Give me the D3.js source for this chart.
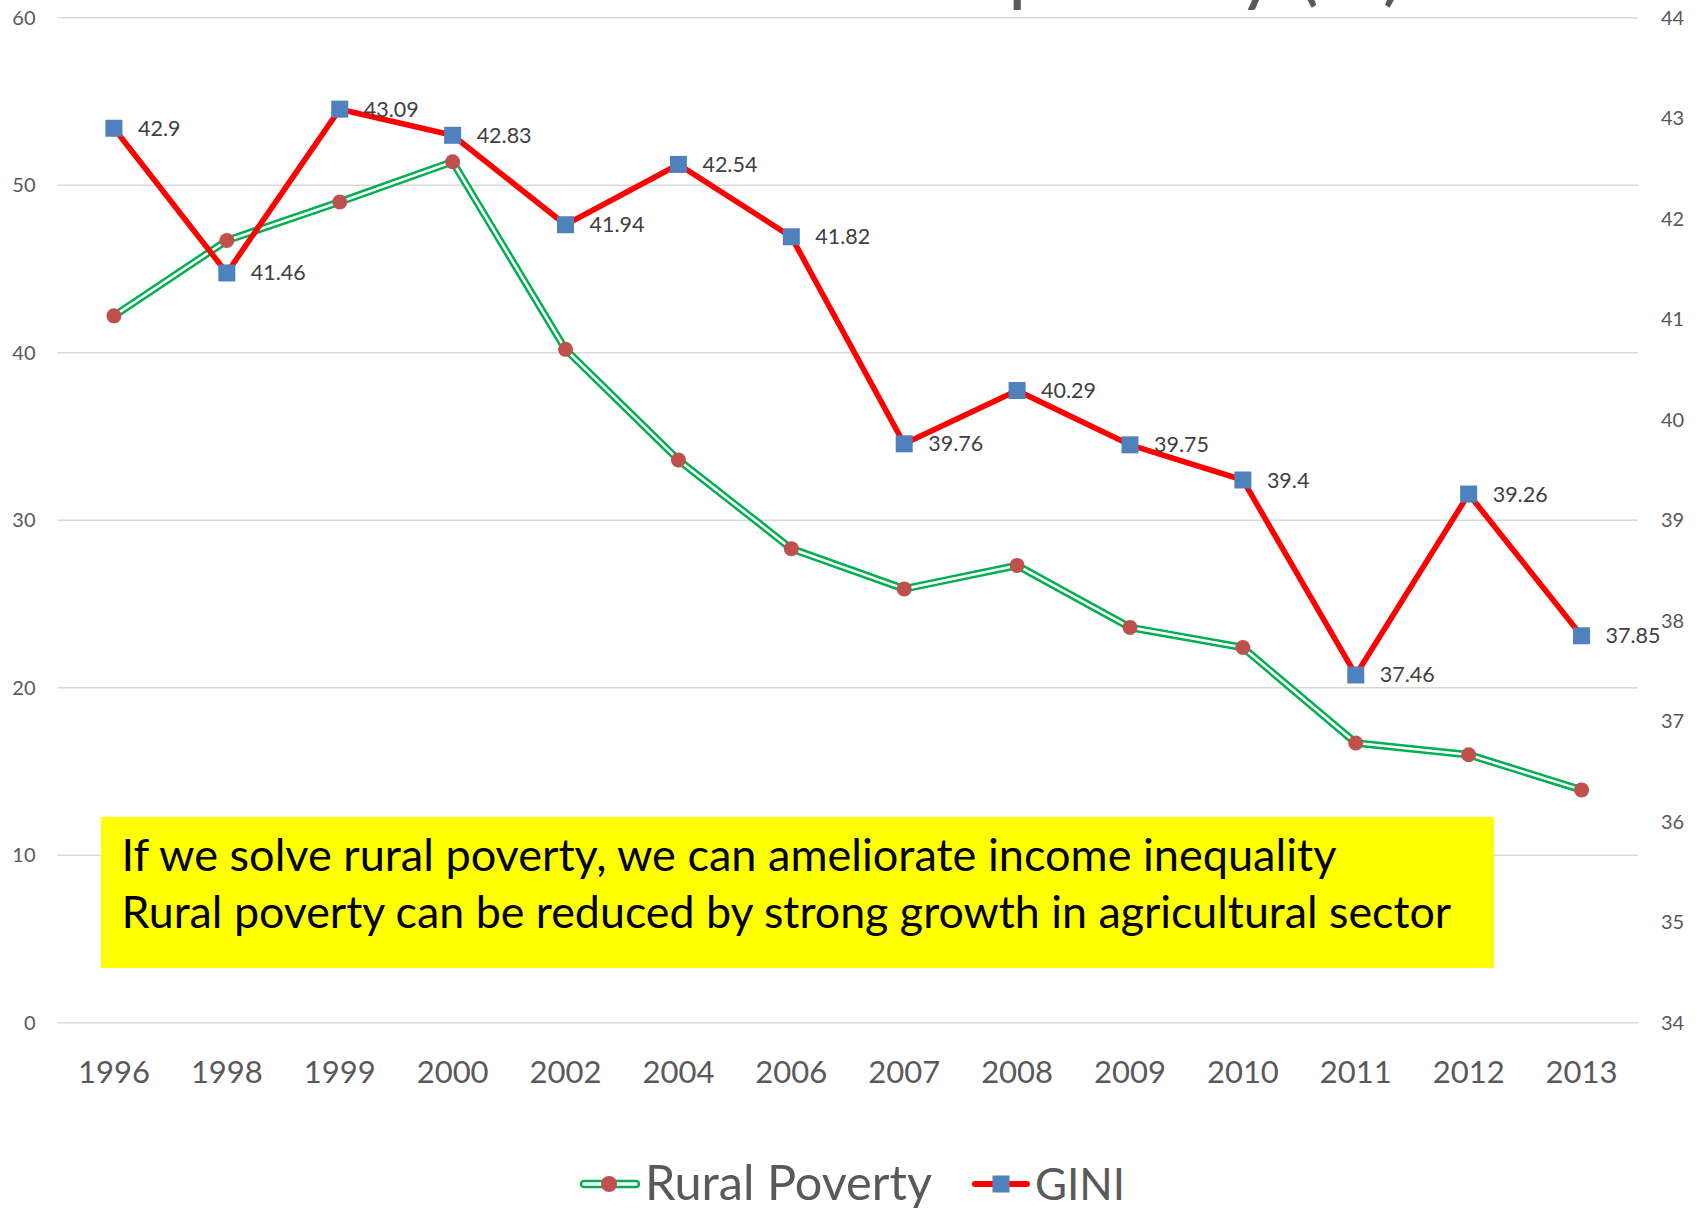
<!DOCTYPE html>
<html>
<head>
<meta charset="utf-8">
<script src="https://cdn.jsdelivr.net/npm/d3@7"></script>
<style>
  html, body { margin: 0; padding: 0; background: #fff; overflow: hidden; }
  svg { display: block; }
  text { font-family: Lato, "Open Sans", "Noto Sans", sans-serif; }
</style>
</head>
<body>
<svg id="chart" width="1702" height="1208"></svg>
<script>
// ---- data ----
const years = ["1996", "1998", "1999", "2000", "2002", "2004", "2006",
               "2007", "2008", "2009", "2010", "2011", "2012", "2013"];
const ruralPoverty = [42.2, 46.7, 49.0, 51.4, 40.2, 33.6, 28.3,
                      25.9, 27.3, 23.6, 22.4, 16.7, 16.0, 13.9];
const gini = [42.9, 41.46, 43.09, 42.83, 41.94, 42.54, 41.82,
              39.76, 40.29, 39.75, 39.4, 37.46, 39.26, 37.85];
const leftTicks = [0, 10, 20, 30, 40, 50, 60];
const rightTicks = [34, 35, 36, 37, 38, 39, 40, 41, 42, 43, 44];
const seriesNames = ["Rural Poverty", "GINI"];
const noteLines = [
  "If we solve rural poverty, we can ameliorate income inequality",
  "Rural poverty can be reduced by strong growth in agricultural sector"
];
const titleText = "Rural poverty (%)";

// ---- layout & style ----
const plot = { left: 57.5, right: 1638, top: 17.7, bottom: 1022.7 };
const C = {
  grid: "#D9D9D9", text: "#595959", green: "#00B050", red: "#FF0000",
  circle: "#C0504D", square: "#4F81BD", note: "#FFFF00"
};

const svg = d3.select("#chart");

// scale a text element's font size so it spans a given width
function fitWidth(sel, target) {
  const node = sel.node();
  const fs = parseFloat(sel.attr("font-size"));
  const len = node.getComputedTextLength();
  if (len > 0) sel.attr("font-size", (fs * target / len).toFixed(2));
  return sel;
}

const x = d3.scaleBand().domain(years).range([plot.left, plot.right]);
const cx = d => x(d) + x.bandwidth() / 2;
const yL = d3.scaleLinear().domain([0, 60]).range([plot.bottom, plot.top]);
const yR = d3.scaleLinear().domain([34, 44]).range([plot.bottom, plot.top]);

// title (sits mostly above the visible area)
svg.append("text")
  .attr("x", 1404).attr("y", -4)
  .attr("text-anchor", "end")
  .attr("font-size", 80)
  .attr("fill", C.text)
  .text(titleText);

// gridlines
svg.append("g").selectAll("line").data(leftTicks).join("line")
  .attr("x1", plot.left).attr("x2", plot.right)
  .attr("y1", d => yL(d)).attr("y2", d => yL(d))
  .attr("stroke", C.grid).attr("stroke-width", 1.5);

// left axis
const axL = svg.append("g")
  .attr("transform", `translate(${plot.left - 22},0)`)
  .call(d3.axisLeft(yL).tickValues(leftTicks).tickSize(0).tickPadding(0));
axL.select(".domain").remove();
axL.selectAll("text").attr("font-size", 20).attr("fill", C.text)
  .attr("font-family", "Lato, 'Open Sans', sans-serif");

// right axis
const axR = svg.append("g")
  .attr("transform", `translate(${plot.right + 23},0)`)
  .call(d3.axisRight(yR).tickValues(rightTicks).tickSize(0).tickPadding(0));
axR.select(".domain").remove();
axR.selectAll("text").attr("font-size", 20).attr("fill", C.text)
  .attr("font-family", "Lato, 'Open Sans', sans-serif");

// category axis
const axB = svg.append("g")
  .attr("transform", `translate(0,${plot.bottom + 49})`)
  .call(d3.axisBottom(x).tickSize(0).tickPadding(0));
axB.select(".domain").remove();
axB.selectAll("text").attr("font-size", 31).attr("fill", C.text)
  .attr("dy", "0.36em")
  .attr("font-family", "Lato, 'Open Sans', sans-serif");

// Rural Poverty: double green line with circle markers
const lineL = d3.line().x((d, i) => cx(years[i])).y(d => yL(d));
const gRural = svg.append("g");
gRural.append("path").datum(ruralPoverty)
  .attr("d", lineL).attr("fill", "none")
  .attr("stroke", C.green).attr("stroke-width", 7.6)
  .attr("stroke-linejoin", "round");
gRural.append("path").datum(ruralPoverty)
  .attr("d", lineL).attr("fill", "none")
  .attr("stroke", "#fff").attr("stroke-width", 2.6)
  .attr("stroke-linejoin", "round");
gRural.selectAll("circle").data(ruralPoverty).join("circle")
  .attr("cx", (d, i) => cx(years[i])).attr("cy", d => yL(d))
  .attr("r", 7.5).attr("fill", C.circle);

// GINI: red line with square markers and value labels
const lineR = d3.line().x((d, i) => cx(years[i])).y(d => yR(d));
const gGini = svg.append("g");
gGini.append("path").datum(gini)
  .attr("d", lineR).attr("fill", "none")
  .attr("stroke", C.red).attr("stroke-width", 5.6)
  .attr("stroke-linejoin", "round");
const sq = 17;
gGini.selectAll("rect").data(gini).join("rect")
  .attr("x", (d, i) => cx(years[i]) - sq / 2).attr("y", d => yR(d) - sq / 2)
  .attr("width", sq).attr("height", sq).attr("fill", C.square);
gGini.selectAll("text").data(gini).join("text")
  .attr("x", (d, i) => cx(years[i]) + 24)
  .attr("y", d => yR(d) + 7.5)
  .attr("font-size", 21.5).attr("fill", "#404040")
  .text(d => String(d));

// yellow note box
const note = svg.append("g");
note.append("rect")
  .attr("x", 101).attr("y", 817).attr("width", 1393).attr("height", 151)
  .attr("fill", C.note);
const noteBase = [870.7, 928];
const noteWidth = [1215, 1330];
noteLines.forEach((t, i) => {
  const el = note.append("text")
    .attr("x", 121.6).attr("y", noteBase[i])
    .attr("font-size", 40).attr("fill", "#000")
    .text(t);
  fitWidth(el, noteWidth[i]);
});

// legend
const legY = 1184;
const leg = svg.append("g");
// Rural Poverty entry
leg.append("line").attr("x1", 584).attr("x2", 636).attr("y1", legY).attr("y2", legY)
  .attr("stroke", C.green).attr("stroke-width", 8.5).attr("stroke-linecap", "round");
leg.append("line").attr("x1", 584).attr("x2", 636).attr("y1", legY).attr("y2", legY)
  .attr("stroke", "#fff").attr("stroke-width", 3.5).attr("stroke-linecap", "round");
leg.append("circle").attr("cx", 609).attr("cy", legY).attr("r", 8).attr("fill", C.circle);
const t1 = leg.append("text").attr("x", 645).attr("y", 1200)
  .attr("font-size", 48).attr("fill", C.text).text(seriesNames[0]);
fitWidth(t1, 287);
// GINI entry
leg.append("line").attr("x1", 975).attr("x2", 1027).attr("y1", legY).attr("y2", legY)
  .attr("stroke", C.red).attr("stroke-width", 6).attr("stroke-linecap", "round");
leg.append("rect").attr("x", 1001 - 8.5).attr("y", legY - 8.5)
  .attr("width", 17).attr("height", 17).attr("fill", C.square);
const t2 = leg.append("text").attr("x", 1035).attr("y", 1200)
  .attr("font-size", 48).attr("fill", C.text).text(seriesNames[1]);
fitWidth(t2, 90);
</script>
</body>
</html>
